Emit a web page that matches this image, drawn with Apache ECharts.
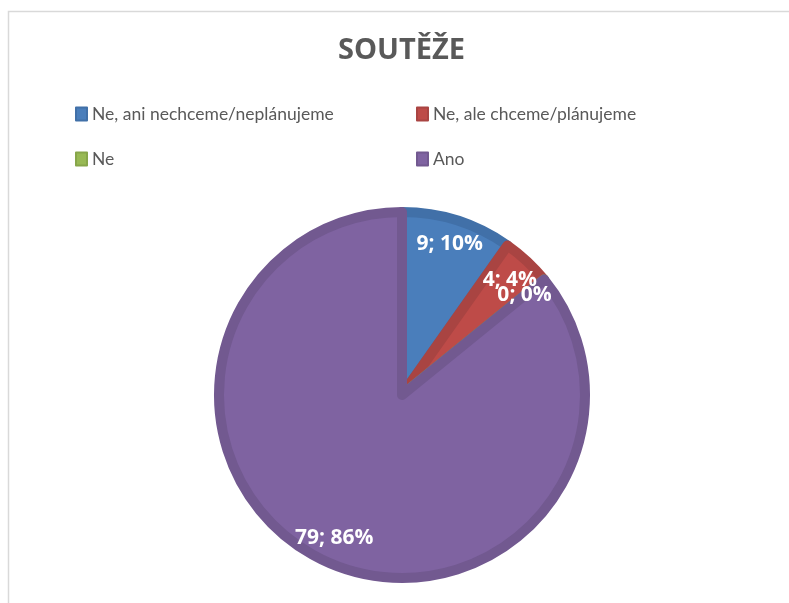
<!DOCTYPE html>
<html><head><meta charset="utf-8">
<script src="https://cdn.jsdelivr.net/npm/echarts@6/dist/echarts.min.js"></script>
<style>html,body{margin:0;padding:0;background:#fff}#c{width:789px;height:603px}</style>
</head><body><div id="c"></div>
<script>
const categories = ['Ne, ani nechceme/neplánujeme', 'Ne, ale chceme/plánujeme', 'Ne', 'Ano'];
const values = [9, 4, 0, 79];
const fillColors = ['#4A7EBB', '#BE4B48', '#98B954', '#7F63A1'];
const edgeColors = ['#4170A8', '#A94442', '#87A64A', '#725990'];

const total = values.reduce((a, b) => a + b, 0);
let cum = 0;
const labelData = values.map((v) => {
  const mid = cum + v / 2; cum += v;
  return [158, mid, v, Math.round(v / total * 100)];
});

const chart = echarts.init(document.getElementById('c'));
const data = categories.map((n, i) => ({name: n, value: values[i], itemStyle: {color: fillColors[i], borderColor: edgeColors[i]}}));
const legendPos = [[70, 100], [411, 100], [70, 145], [411, 145]];
const legends = categories.map((n, i) => ({
  data: [n], left: legendPos[i][0], top: legendPos[i][1], itemWidth: 11, itemHeight: 13, itemGap: 3,
  icon: 'rect', textStyle: {color: '#595959', fontSize: 17.5, fontFamily: 'Lato'}, selectedMode: false
}));
chart.setOption({
  animation: false,
  title: {text: 'SOUTĚŽE', left: 333, top: 31, textStyle: {color: '#595959', fontSize: 29, fontWeight: 'bold', fontFamily: 'Open Sans'}},
  legend: legends,
  polar: {center: [402, 395], radius: 188},
  angleAxis: {type: 'value', min: 0, max: total, startAngle: 90, clockwise: true, show: false},
  radiusAxis: {type: 'value', min: 0, max: 188, show: false},
  graphic: [{type: 'rect', shape: {x: 8.5, y: 11.5, width: 800, height: 700}, style: {fill: 'none', stroke: '#d9d9d9', lineWidth: 1.5}, silent: true}],
  series: [
    {type: 'pie', center: [402, 395], radius: 183, startAngle: 90, clockwise: true, silent: true,
     itemStyle: {borderWidth: 10}, label: {show: false}, labelLine: {show: false}, data: data},
    {type: 'custom', coordinateSystem: 'polar', silent: true, z: 10, data: labelData,
     renderItem: function (params, api) {
       const p = api.coord([api.value(0), api.value(1)]);
       return {type: 'text', x: p[0], y: p[1], style: {
         text: api.value(2) + '; ' + api.value(3) + '%', fill: '#fff', font: 'bold 21px "Open Sans"',
         align: 'center', verticalAlign: 'middle'}};
     }}
  ]
});
</script></body></html>
